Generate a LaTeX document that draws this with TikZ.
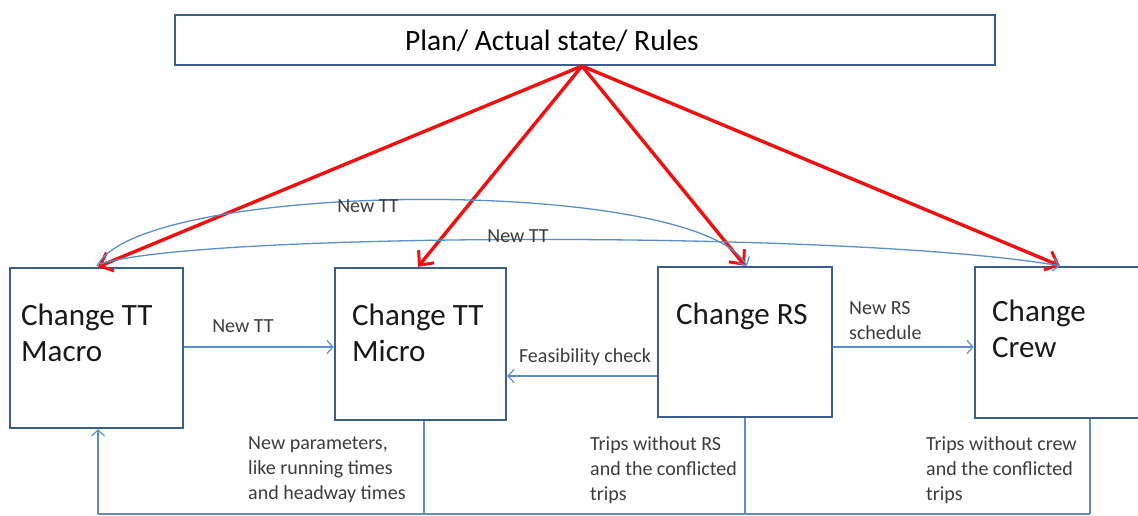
\documentclass[tikz,border=0pt]{standalone}
\usepackage{fontspec}
\setmainfont{Carlito}
\usetikzlibrary{arrows.meta}
\definecolor{boxblue}{HTML}{3A5F8F}
\definecolor{lineblue}{HTML}{5B8FCB}
\definecolor{labelgray}{HTML}{3C3C3C}
\definecolor{planred}{HTML}{F01010}
\tikzset{
  box/.style={draw=boxblue, line width=2.4pt, rectangle, inner sep=0pt},
  boxtext/.style={anchor=north west, align=left, inner sep=0pt, text=black!90,
    font=\fontsize{31}{36}\selectfont},
  lbl/.style={inner sep=0pt, text=labelgray, align=left,
    font=\fontsize{20}{25}\selectfont},
  redarrow/.style={draw=planred, line width=3.4pt,
    -{Straight Barb[length=11pt, width=20pt, line width=3pt]}},
  bluearrow/.style={draw=lineblue, line width=1.3pt,
    -{Straight Barb[length=6pt, width=13pt, line width=1.2pt]}},
  blueline/.style={draw=lineblue, line width=1.3pt},
}
\begin{document}
\begin{tikzpicture}[x=1pt, y=-1pt]
  \useasboundingbox (0,0) rectangle (1138,516);
  \clip (0,0) rectangle (1138,516);

  % top box
  \node[box, minimum width=820pt, minimum height=50pt] (plan) at (585,40) {};
  \node[inner sep=0pt, font=\fontsize{29.5}{32}\selectfont] (plantext) at (552,41) {Plan/ Actual state/ Rules};

  % process boxes
  \node[box, minimum width=173pt, minimum height=160pt] (macro) at (96.5,348) {};
  \node[boxtext] (macrotext) at (21,304) {Change TT\\Macro};
  \node[box, minimum width=171pt, minimum height=152pt] (micro) at (420.5,344) {};
  \node[boxtext] (microtext) at (352,304) {Change TT\\Micro};
  \node[box, minimum width=174pt, minimum height=150pt] (rs) at (745,342) {};
  \node[boxtext] (rstext) at (676,303) {Change RS};
  \node[box, minimum width=190pt, minimum height=151pt] (crew) at (1070,342.5) {};
  \node[boxtext] (crewtext) at (992,300) {Change\\Crew};

  % red arrows from the plan
  \coordinate (src) at (582,66);
  \draw[redarrow] (src) -- (macro.north -| 98,0);
  \draw[redarrow] (src) -- (micro.north -| 418,0);
  \draw[redarrow] (src) -- (rs.north -| 745,0);
  \draw[redarrow] (src) -- (crew.north -| 1060,0);

  % new timetable curves from the macro box
  \coordinate (m1) at (97,266);
  \coordinate (m2) at (100,264);
  \draw[bluearrow] (m1) .. controls (140,180) and (695,175) .. (rs.north -| 747,0);
  \draw[bluearrow] (m2) .. controls (200,232) and (850,230) .. (crew.north -| 1060,0);
  \node[lbl] (ntt1) at (368,206) {New TT};
  \node[lbl] (ntt2) at (518,236) {New TT};

  % horizontal links
  \draw[bluearrow] (macro.east |- 0,347) -- (micro.west |- 0,347);
  \node[lbl] (ntt3) at (243,326) {New TT};
  \draw[bluearrow] (rs.west |- 0,376) -- (micro.east |- 0,376);
  \node[lbl] (feas) at (585,357) {Feasibility check};
  \draw[bluearrow] (rs.east |- 0,347) -- (crew.west |- 0,347);
  \node[lbl, anchor=west] (newrs) at (849,321) {New RS\\schedule};

  % feedback loop along the bottom
  \coordinate (bl) at (98,514);
  \coordinate (br) at (1090,514);
  \draw[blueline] (micro.south -| 424,0) -- (424,514);
  \draw[blueline] (rs.south -| 745,0) -- (745,514);
  \draw[blueline] (crew.south -| 1090,0) -- (br);
  \draw[blueline] (br) -- (bl);
  \draw[bluearrow] (bl) -- (macro.south -| 98,0);

  \node[lbl, anchor=north west] (par) at (248,436) {New parameters,\\like running times\\and headway times};
  \node[lbl, anchor=north west] (trs) at (590,436) {Trips without RS\\and the conflicted\\trips};
  \node[lbl, anchor=north west] (tcr) at (926,436) {Trips without crew\\and the conflicted\\trips};
\end{tikzpicture}
\end{document}
